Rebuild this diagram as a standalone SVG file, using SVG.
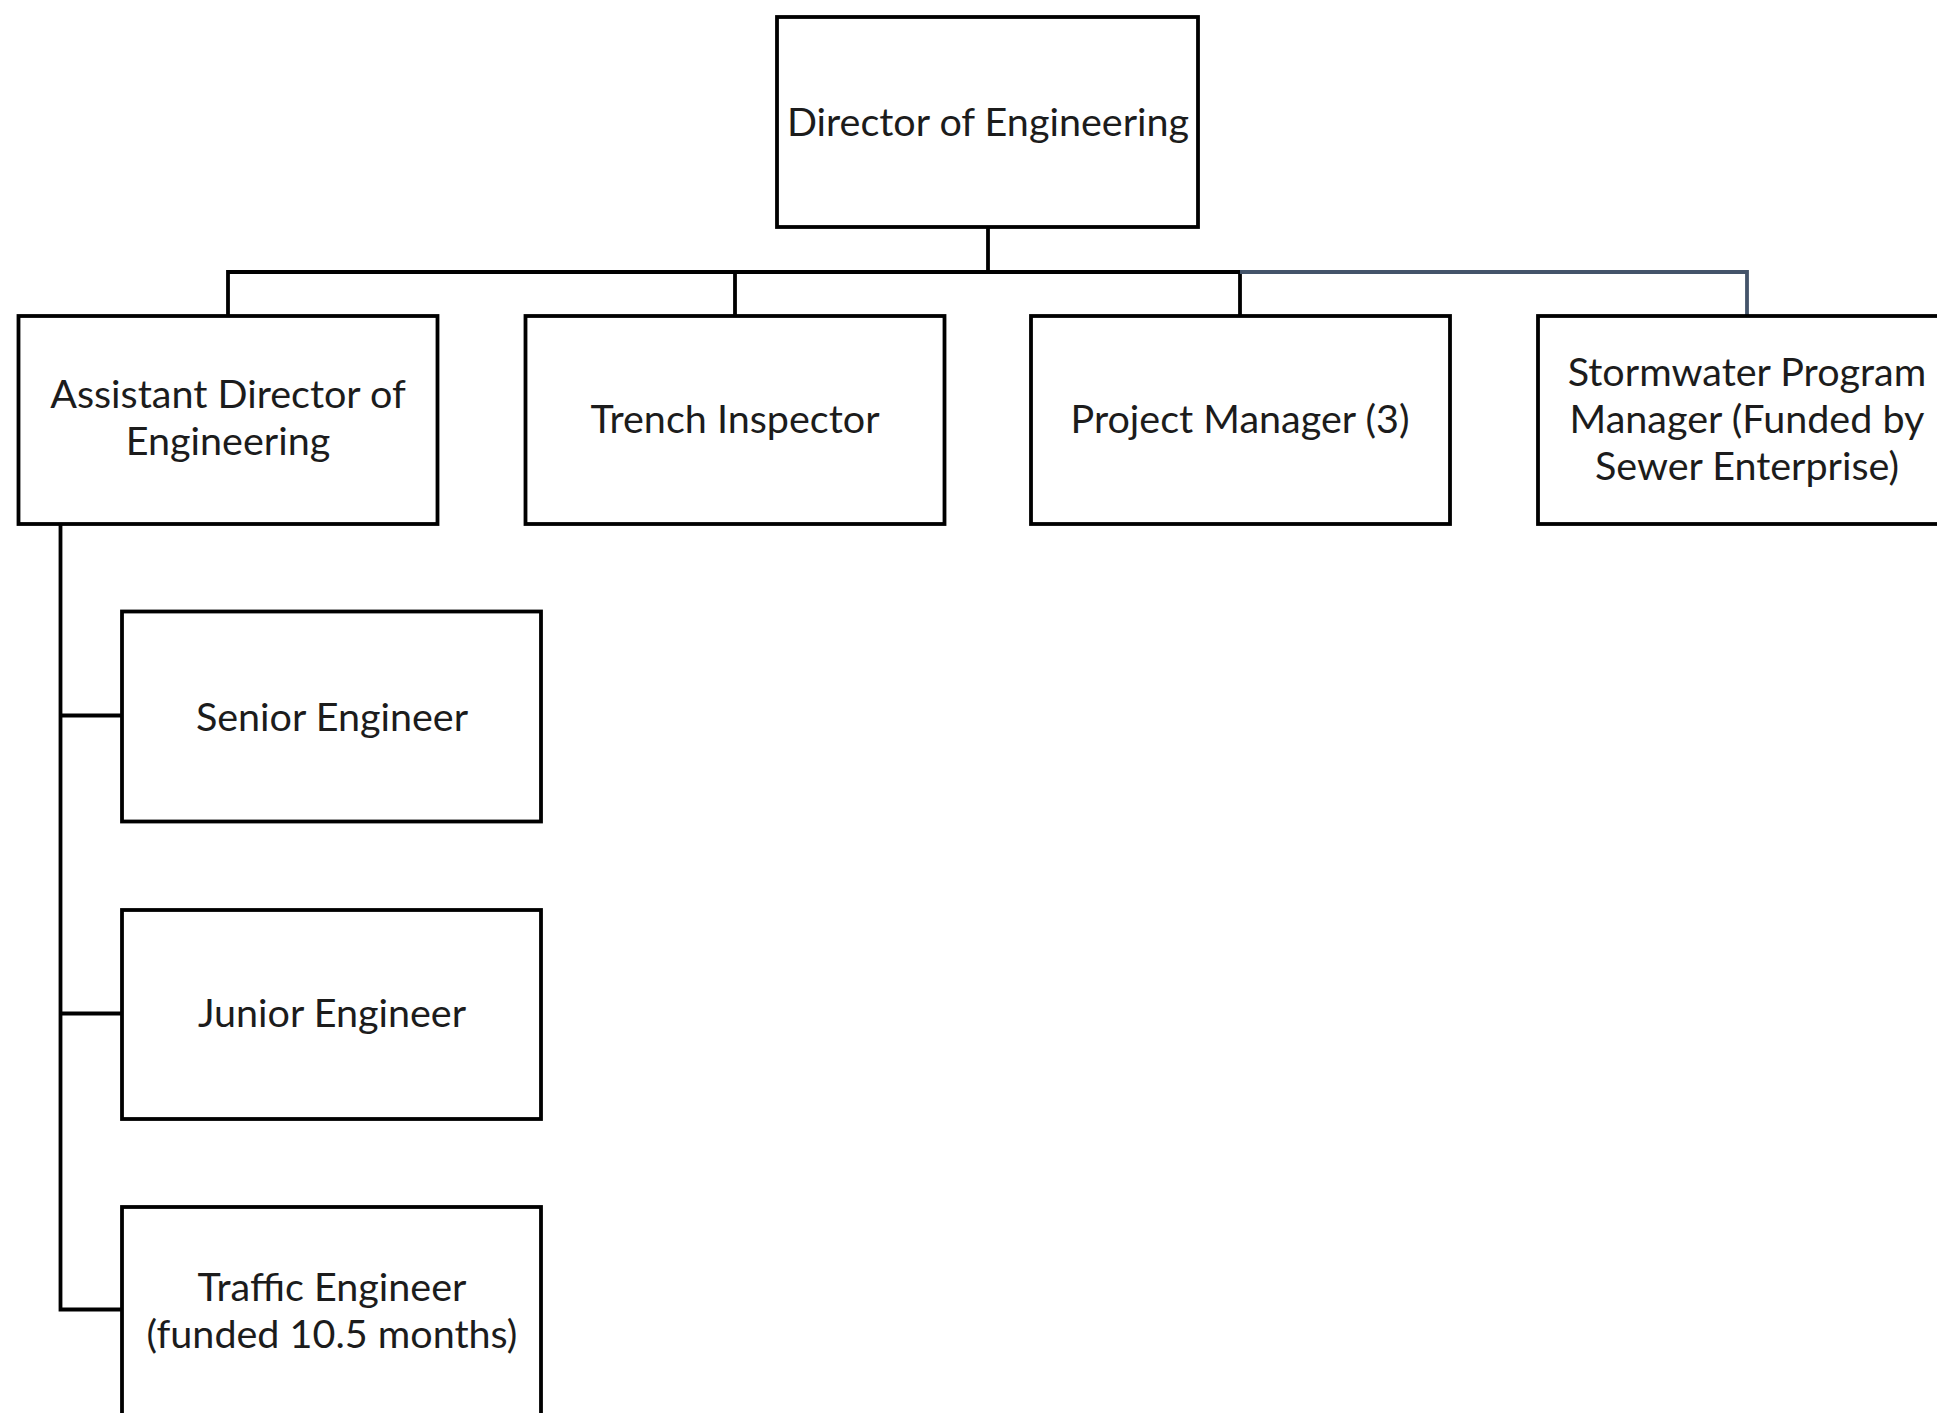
<svg xmlns="http://www.w3.org/2000/svg" width="1937" height="1413" viewBox="0 0 1937 1413">
  <style>
    .box { fill: #ffffff; stroke: #000000; stroke-width: 3.8; }
    .lbl { font-family: Lato, "Open Sans", "Liberation Sans", sans-serif; font-size: 39.5px; fill: #1c1c1c; text-anchor: middle; dominant-baseline: middle; }
    .link { fill: none; stroke: #000000; stroke-width: 3.8; }
    .link-alt { fill: none; stroke: #44546A; stroke-width: 3.8; }
  </style>
  <rect width="1937" height="1413" fill="#ffffff"/>

  <!-- reporting lines -->
  <g id="connectors">
    <path class="link" d="M988 227 V272"/>
    <path class="link" d="M228 316 V272 H1240"/>
    <path class="link" d="M735 272 V316"/>
    <path class="link" d="M1240 272 V316"/>
    <path class="link-alt" d="M1240 272 H1747 V316"/>
    <path class="link" d="M60.5 524 V1309.5 H122"/>
    <path class="link" d="M60.5 715.5 H122"/>
    <path class="link" d="M60.5 1013.5 H122"/>
  </g>

  <g id="director">
    <rect class="box" x="777" y="17" width="421" height="210"/>
    <text class="lbl" x="988" y="126">Director of Engineering</text>
  </g>

  <g id="assistant-director">
    <rect class="box" x="18.5" y="316" width="419" height="208"/>
    <text class="lbl" x="228" y="398">Assistant Director of</text>
    <text class="lbl" x="228" y="445">Engineering</text>
  </g>

  <g id="trench-inspector">
    <rect class="box" x="525.5" y="316" width="419" height="208"/>
    <text class="lbl" x="735" y="423">Trench Inspector</text>
  </g>

  <g id="project-manager">
    <rect class="box" x="1031" y="316" width="419" height="208"/>
    <text class="lbl" x="1240" y="423">Project Manager (3)</text>
  </g>

  <g id="stormwater-manager">
    <rect class="box" x="1538" y="316" width="419" height="208"/>
    <text class="lbl" x="1747" y="376">Stormwater Program</text>
    <text class="lbl" x="1747" y="423">Manager (Funded by</text>
    <text class="lbl" x="1747" y="470">Sewer Enterprise)</text>
  </g>

  <g id="senior-engineer">
    <rect class="box" x="122" y="611.5" width="419" height="210"/>
    <text class="lbl" x="332" y="720.5">Senior Engineer</text>
  </g>

  <g id="junior-engineer">
    <rect class="box" x="122" y="910" width="419" height="209"/>
    <text class="lbl" x="332" y="1017">Junior Engineer</text>
  </g>

  <g id="traffic-engineer">
    <rect class="box" x="122" y="1207" width="419" height="210"/>
    <text class="lbl" x="332" y="1291">Traffic Engineer</text>
    <text class="lbl" x="332" y="1338">(funded 10.5 months)</text>
  </g>
</svg>
